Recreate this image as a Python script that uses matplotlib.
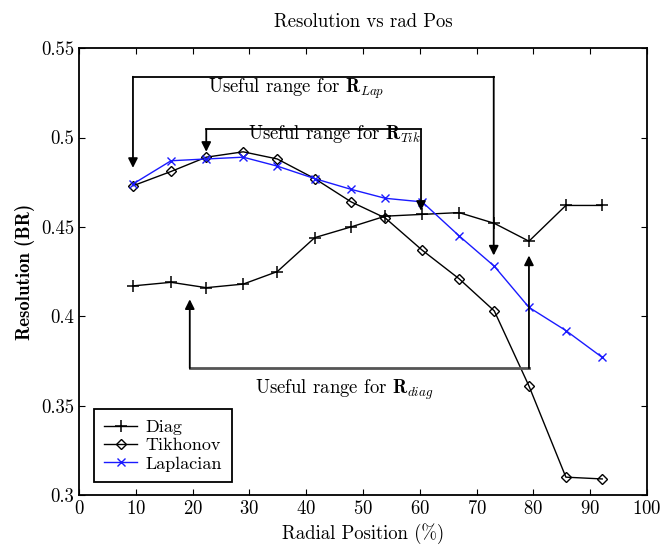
import matplotlib
matplotlib.use('Agg')
import matplotlib.pyplot as plt

plt.rcParams['font.family'] = 'cmr10'
plt.rcParams['mathtext.fontset'] = 'cm'
plt.rcParams['axes.formatter.use_mathtext'] = True

radial_pos = [9.5, 16.2, 22.4, 28.9, 34.9, 41.5, 47.9, 53.9, 60.4, 66.9, 73.1, 79.2, 85.7, 92.1]
diag = [0.417, 0.419, 0.416, 0.418, 0.425, 0.444, 0.450, 0.456, 0.457, 0.458, 0.452, 0.442, 0.462, 0.462]
tikhonov = [0.473, 0.481, 0.489, 0.492, 0.488, 0.477, 0.464, 0.455, 0.437, 0.421, 0.403, 0.361, 0.310, 0.309]
laplacian = [0.474, 0.487, 0.488, 0.489, 0.484, 0.477, 0.471, 0.466, 0.464, 0.445, 0.428, 0.405, 0.392, 0.377]

fig = plt.figure(figsize=(6.61, 5.47), dpi=100)
ax = fig.add_axes([0.1195, 0.095, 0.8595, 0.817])

ax.plot(radial_pos, diag, 'k-', marker='+', ms=9, mew=1.1, lw=1, label='Diag')
ax.plot(radial_pos, tikhonov, 'k-', marker='D', ms=5, mfc='none', mew=1, lw=1, label='Tikhonov')
ax.plot(radial_pos, laplacian, '-', color='#1a1aff', marker='x', ms=6, mew=1, lw=1, label='Laplacian')

arr = dict(arrowstyle='-|>', color='k', lw=1.3, mutation_scale=14, shrinkA=0, shrinkB=0)
fs = 13.5

# useful range for R_Lap
ax.plot([9.5, 73.0], [0.534, 0.534], color='k', lw=1.3)
ax.annotate('', xy=(9.5, 0.483), xytext=(9.5, 0.534), arrowprops=arr)
ax.annotate('', xy=(73.0, 0.434), xytext=(73.0, 0.534), arrowprops=arr)
ax.text(38.2, 0.5275, r'Useful range for $\mathbf{R}_{Lap}$', ha='center', va='center', fontsize=fs)

# useful range for R_Tik
ax.plot([22.4, 60.2], [0.5045, 0.5045], color='k', lw=1.3)
ax.annotate('', xy=(22.4, 0.492), xytext=(22.4, 0.5045), arrowprops=arr)
ax.annotate('', xy=(60.2, 0.459), xytext=(60.2, 0.5045), arrowprops=arr)
ax.text(45.0, 0.5022, r'Useful range for $\mathbf{R}_{Tik}$', ha='center', va='center', fontsize=fs)

# useful range for R_diag
ax.plot([19.5, 79.2], [0.371, 0.371], color='#555555', lw=2)
ax.annotate('', xy=(19.5, 0.4095), xytext=(19.5, 0.371), arrowprops=arr)
ax.annotate('', xy=(79.2, 0.434), xytext=(79.2, 0.371), arrowprops=arr)
ax.text(46.7, 0.3587, r'Useful range for $\mathbf{R}_{diag}$', ha='center', va='center', fontsize=fs)

ax.set_xlim(0, 100)
ax.set_ylim(0.3, 0.55)
ax.set_xticks(range(0, 101, 10))
ax.set_yticks([0.3, 0.35, 0.4, 0.45, 0.5, 0.55])
ax.set_yticklabels(['0.3', '0.35', '0.4', '0.45', '0.5', '0.55'])
ax.tick_params(direction='in', labelsize=fs, length=4, top=True, right=True)
for s in ax.spines.values():
    s.set_linewidth(1.3)

ax.set_title('Resolution vs rad Pos', fontsize=fs, pad=15)
ax.set_xlabel('Radial Position (%)', fontsize=fs)
ax.set_ylabel('Resolution (BR)', fontsize=fs, family='cmb10')

leg = ax.legend(loc='lower left', bbox_to_anchor=(0.027, 0.03), fontsize=13, fancybox=False,
                edgecolor='k', handlelength=1.8, handletextpad=0.5, labelspacing=0.15,
                borderpad=0.55, borderaxespad=0, framealpha=1)
leg.get_frame().set_linewidth(1.3)

fig.savefig('out.png', dpi=100)
